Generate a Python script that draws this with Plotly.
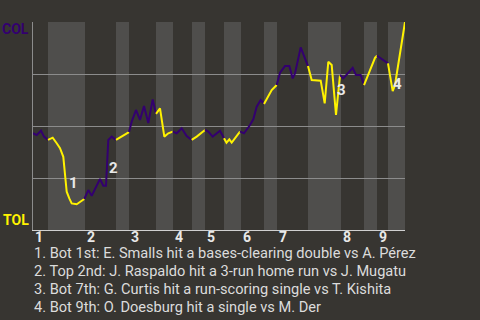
import plotly.graph_objects as go

# ---- data ----
half_bounds = [0, 15, 52, 83, 96, 123, 140, 159, 172, 191, 208, 231, 244, 275, 308, 331, 344, 355, 372]
innings = ["1", "2", "3", "4", "5", "6", "7", "8", "9"]

progress = [0, 3.7, 8, 11, 15,
            19.7, 23.7, 27, 30.3, 32.3, 33.7, 36.3, 38.7, 43.7, 47, 51.3,
            55.3, 58.7, 63, 67, 70.3, 73, 75.3, 78.7, 83,
            87, 93.7, 96,
            98.7, 103, 107, 111, 115.3, 119.7, 123,
            127, 130.3, 131.3, 135.3, 139.7,
            143.7, 148.7, 153.7, 158.7,
            163.7, 172,
            175.3, 179.7, 187, 191,
            193.5, 196.3, 198.7, 207,
            211, 217, 220.3, 223.7, 227.7, 231,
            238.7, 243.7,
            247, 252, 256.3, 259.7, 262, 267.7, 272, 275,
            278.7, 287.7, 291.7, 295.3, 298.7, 303, 307,
            310.3, 319.7, 323, 327.7, 331,
            337, 342, 344,
            355,
            359.7, 362, 367, 372]
wp = [0.465, 0.457, 0.477, 0.449, 0.433,
      0.444, 0.417, 0.393, 0.352, 0.264, 0.184, 0.152, 0.128, 0.124, 0.136, 0.149,
      0.192, 0.165, 0.208, 0.245, 0.213, 0.213, 0.433, 0.449, 0.433,
      0.444, 0.465, 0.471,
      0.521, 0.577, 0.529, 0.596, 0.514, 0.628, 0.558,
      0.585, 0.481, 0.449, 0.465, 0.473,
      0.465, 0.489, 0.452, 0.433,
      0.449, 0.481,
      0.473, 0.449, 0.477, 0.441,
      0.420, 0.436, 0.420, 0.473,
      0.465, 0.505, 0.532, 0.593, 0.625, 0.606,
      0.673, 0.697,
      0.756, 0.788, 0.788, 0.729, 0.753, 0.878, 0.825, 0.788,
      0.721, 0.718, 0.609, 0.809, 0.793, 0.553, 0.745,
      0.729, 0.780, 0.745, 0.745, 0.697,
      0.769, 0.828, 0.838,
      0.801,
      0.668, 0.697, 0.841, 1.0]
half = [0] * 5 + [1] * 11 + [2] * 9 + [3] * 3 + [4] * 7 + [5] * 5 + [6] * 4 + [7] * 2 + \
       [8] * 4 + [9] * 4 + [10] * 6 + [11] * 2 + [12] * 8 + [13] * 7 + [14] * 5 + [15] * 3 + \
       [16] * 1 + [17] * 4

event_labels = ["1", "2", "3", "4"]
event_x = [40, 80, 308, 364]
event_y = [0.226, 0.298, 0.673, 0.702]
notes = [
    "1. Bot 1st: E. Smalls hit a bases-clearing double vs A. Pérez",
    "2. Top 2nd: J. Raspaldo hit a 3-run home run vs J. Mugatu",
    "3. Bot 7th: G. Curtis hit a run-scoring single vs T. Kishita",
    "4. Bot 9th: O. Doesburg hit a single vs M. Der",
]
team_top, team_bottom = "COL", "TOL"

# ---- style ----
BG = "#373531"
BAND = "#4f4e4c"
PURPLE = "#33006f"
YELLOW = "#fff200"
FONT = "Roboto"
PLOT_H = 208.0

fig = go.Figure()

# line segments by half-inning
for h in range(18):
    idx = [i for i in range(len(progress)) if half[i] == h]
    if not idx:
        continue
    if idx[0] > 0:
        idx = [idx[0] - 1] + idx
    fig.add_trace(go.Scatter(
        x=[progress[i] for i in idx], y=[wp[i] for i in idx],
        mode="lines", line=dict(color=PURPLE if h % 2 == 0 else YELLOW, width=2),
        hoverinfo="skip", showlegend=False))

# bands for bottom halves
for h in range(1, 18, 2):
    fig.add_shape(type="rect", xref="x", yref="y", x0=half_bounds[h], x1=half_bounds[h + 1],
                  y0=0, y1=1, fillcolor=BAND, line_width=0, layer="below")

for t, x, y in zip(event_labels, event_x, event_y):
    fig.add_annotation(x=x, y=y, text=t, showarrow=False,
                       font=dict(family=FONT, size=15, color="#e8e8e8", weight=700))

# inning labels, left-aligned at the start of each inning
for i, lab in enumerate(innings):
    fig.add_annotation(x=half_bounds[2 * i], xref="x", yref="paper", y=-7 / PLOT_H,
                       xanchor="left", yanchor="middle", text=lab, showarrow=False,
                       font=dict(family=FONT, size=14, color="#e8e8e8", weight=700))

fig.add_annotation(xref="paper", yref="paper", x=0, y=1, xanchor="right", yanchor="top",
                   xshift=-2, yshift=3, text=team_top, showarrow=False,
                   font=dict(family=FONT, size=14, color=PURPLE, weight=700))
fig.add_annotation(xref="paper", yref="paper", x=0, y=0, xanchor="right", yanchor="bottom",
                   xshift=-2, text=team_bottom, showarrow=False,
                   font=dict(family=FONT, size=14, color=YELLOW, weight=700))

for k, n in enumerate(notes):
    fig.add_annotation(xref="paper", yref="paper", x=0, y=-(23 + 18 * k) / PLOT_H,
                       xanchor="left", yanchor="middle", xshift=-1, text=n, showarrow=False,
                       font=dict(family=FONT, size=14.6, color="#dcdcdc"))

fig.update_layout(
    width=480, height=320, margin=dict(l=33, r=75, t=22, b=90),
    paper_bgcolor=BG, plot_bgcolor=BG, showlegend=False,
    xaxis=dict(range=[0, 372], showgrid=False, zeroline=False, showline=True,
               linecolor="#d0d0d0", linewidth=1, showticklabels=False, ticks=""),
    yaxis=dict(range=[0, 1], tickvals=[0, 0.25, 0.5, 0.75, 1], showticklabels=False,
               gridcolor="#8c8c8c", gridwidth=1, zeroline=False, showline=True,
               linecolor="#8c8c8c", linewidth=1, ticks=""),
)

fig.write_html("out.html")
